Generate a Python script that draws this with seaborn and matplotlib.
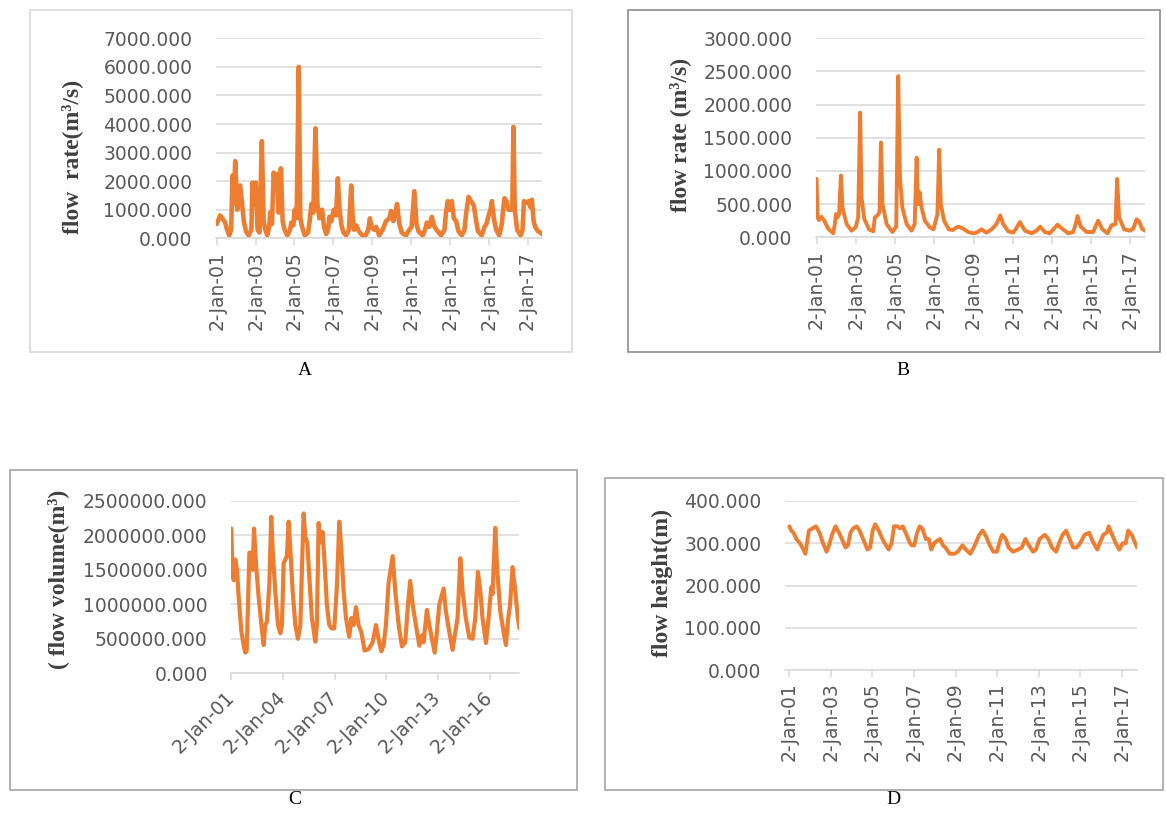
import matplotlib
matplotlib.use("Agg")
import matplotlib.pyplot as plt
from matplotlib.patches import Rectangle
import seaborn as sns

# ---- data (decimal year, value) ----

# A: daily flow rate (m3/s), peaks/troughs
years_a = [2001.00, 2001.17, 2001.29, 2001.43, 2001.53, 2001.64, 2001.74, 2001.81, 2001.88, 2001.95,
           2002.05, 2002.12, 2002.20, 2002.29, 2002.39, 2002.50, 2002.64, 2002.78, 2002.84, 2002.93,
           2003.01, 2003.10, 2003.20, 2003.32, 2003.41, 2003.50, 2003.60, 2003.70, 2003.75, 2003.84,
           2003.93, 2004.01, 2004.10, 2004.18, 2004.30, 2004.39, 2004.49, 2004.63, 2004.77, 2004.84,
           2004.94, 2005.01, 2005.11, 2005.22, 2005.30, 2005.39, 2005.53, 2005.70, 2005.80, 2005.87,
           2005.97, 2006.08, 2006.18, 2006.28, 2006.42, 2006.52, 2006.63, 2006.73, 2006.80, 2006.90,
           2007.02, 2007.14, 2007.23, 2007.32, 2007.42, 2007.52, 2007.66, 2007.80, 2007.92, 2007.99,
           2008.06, 2008.18, 2008.31, 2008.49, 2008.66, 2008.80, 2008.88, 2008.97, 2009.09, 2009.20,
           2009.36, 2009.54, 2009.71, 2009.88, 2009.97, 2010.09, 2010.19, 2010.28, 2010.40, 2010.52,
           2010.74, 2010.91, 2011.03, 2011.17, 2011.28, 2011.38, 2011.60, 2011.72, 2011.81, 2011.93,
           2012.07, 2012.17, 2012.31, 2012.55, 2012.72, 2012.80, 2012.89, 2012.99, 2013.10, 2013.20,
           2013.32, 2013.44, 2013.61, 2013.75, 2013.84, 2013.96, 2014.09, 2014.23, 2014.33, 2014.44,
           2014.64, 2014.78, 2014.88, 2014.99, 2015.09, 2015.16, 2015.26, 2015.38, 2015.54, 2015.67,
           2015.74, 2015.81, 2015.91, 2016.02, 2016.12, 2016.21, 2016.27, 2016.34, 2016.46, 2016.64,
           2016.74, 2016.81, 2016.93, 2017.05, 2017.13, 2017.22, 2017.31, 2017.39, 2017.53, 2017.67,
           2017.73]
flow_a = [500, 800, 700, 550, 300, 100, 300, 2200, 1200, 2700,
          1000, 1500, 1850, 1300, 600, 250, 100, 300, 1950, 1200,
          1950, 300, 200, 3400, 600, 300, 100, 400, 900, 500,
          2300, 1800, 2250, 900, 2450, 600, 300, 100, 300, 550,
          450, 1000, 700, 6000, 700, 400, 100, 200, 700, 1200,
          900, 3850, 1200, 700, 1000, 400, 150, 300, 750, 600,
          1000, 800, 2100, 1000, 450, 200, 100, 300, 1850, 800,
          300, 450, 250, 100, 100, 300, 700, 400, 300, 400,
          100, 300, 600, 700, 950, 600, 900, 1200, 500, 200,
          100, 300, 400, 1650, 500, 250, 100, 300, 550, 400,
          750, 450, 300, 100, 300, 900, 1300, 1000, 1300, 700,
          600, 250, 100, 300, 900, 1450, 1300, 1150, 700, 250,
          100, 400, 500, 800, 1000, 1300, 700, 300, 100, 500,
          1000, 1400, 1300, 1000, 1000, 1000, 3900, 1000, 300, 100,
          300, 1300, 1250, 1300, 1100, 1350, 600, 400, 250, 200,
          150]

# B: flow rate (m3/s)
years_b = [2001.00, 2001.05, 2001.12, 2001.25, 2001.39, 2001.59, 2001.85, 2001.93, 2001.99, 2002.07,
           2002.15, 2002.24, 2002.32, 2002.53, 2002.78, 2002.99, 2003.12, 2003.22, 2003.29, 2003.43,
           2003.67, 2003.89, 2003.97, 2004.11, 2004.21, 2004.28, 2004.36, 2004.57, 2004.86, 2005.06,
           2005.16, 2005.25, 2005.37, 2005.59, 2005.84, 2006.00, 2006.10, 2006.17, 2006.25, 2006.35,
           2006.52, 2006.77, 2006.96, 2007.16, 2007.25, 2007.33, 2007.50, 2007.74, 2007.96, 2008.13,
           2008.25, 2008.47, 2008.73, 2008.98, 2009.15, 2009.41, 2009.66, 2009.92, 2010.17, 2010.36,
           2010.51, 2010.77, 2011.02, 2011.19, 2011.36, 2011.62, 2011.96, 2012.21, 2012.40, 2012.63,
           2012.89, 2013.28, 2013.52, 2013.82, 2014.08, 2014.21, 2014.30, 2014.47, 2014.76, 2015.10,
           2015.35, 2015.57, 2015.83, 2016.03, 2016.24, 2016.32, 2016.42, 2016.68, 2016.97, 2017.14,
           2017.31, 2017.44, 2017.59, 2017.73]
flow_b = [880, 300, 260, 310, 250, 130, 60, 200, 350, 300,
          350, 930, 450, 200, 100, 150, 300, 1880, 600, 280,
          120, 90, 300, 330, 380, 1430, 500, 200, 80, 160,
          2430, 900, 450, 200, 100, 200, 1200, 500, 680, 450,
          250, 150, 120, 350, 1320, 500, 250, 120, 110, 150,
          160, 130, 80, 60, 70, 120, 70, 120, 200, 330,
          200, 90, 70, 140, 230, 100, 60, 100, 160, 80,
          60, 190, 130, 60, 80, 200, 320, 160, 80, 80,
          250, 120, 60, 180, 200, 880, 300, 120, 100, 130,
          270, 240, 130, 100]

# C: flow volume (m3)
years_c = [2001.00, 2001.08, 2001.15, 2001.23, 2001.33, 2001.43, 2001.58, 2001.72, 2001.81, 2001.89,
           2001.97, 2002.05, 2002.16, 2002.24, 2002.32, 2002.43, 2002.59, 2002.74, 2002.88, 2002.97,
           2003.07, 2003.21, 2003.32, 2003.40, 2003.55, 2003.71, 2003.85, 2003.94, 2004.04, 2004.14,
           2004.23, 2004.33, 2004.43, 2004.56, 2004.72, 2004.87, 2005.01, 2005.10, 2005.20, 2005.30,
           2005.41, 2005.53, 2005.68, 2005.88, 2005.97, 2006.07, 2006.17, 2006.30, 2006.42, 2006.55,
           2006.69, 2006.84, 2006.98, 2007.14, 2007.27, 2007.39, 2007.52, 2007.66, 2007.85, 2007.97,
           2008.10, 2008.24, 2008.39, 2008.55, 2008.74, 2008.97, 2009.21, 2009.40, 2009.55, 2009.71,
           2009.84, 2009.98, 2010.13, 2010.37, 2010.52, 2010.72, 2010.91, 2011.10, 2011.26, 2011.39,
           2011.53, 2011.72, 2011.92, 2012.07, 2012.17, 2012.36, 2012.50, 2012.65, 2012.81, 2012.94,
           2013.08, 2013.33, 2013.46, 2013.66, 2013.85, 2014.01, 2014.14, 2014.30, 2014.43, 2014.62,
           2014.82, 2015.01, 2015.17, 2015.32, 2015.46, 2015.59, 2015.79, 2015.94, 2016.10, 2016.17,
           2016.33, 2016.44, 2016.62, 2016.81, 2016.95, 2017.06, 2017.19, 2017.33, 2017.49, 2017.64,
           2017.74]
volume_c = [2100000, 1400000, 1350000, 1650000, 1500000, 1100000, 620000, 400000, 300000, 320000,
            1000000, 1750000, 1750000, 1500000, 2100000, 1600000, 1100000, 720000, 410000, 700000,
            750000, 1300000, 2270000, 1800000, 1200000, 700000, 580000, 700000, 1600000, 1650000,
            1700000, 2200000, 1800000, 1200000, 700000, 500000, 700000, 1500000, 2320000, 1980000,
            1900000, 1400000, 800000, 460000, 700000, 2180000, 1900000, 2050000, 1600000, 1000000,
            700000, 650000, 650000, 1300000, 2200000, 1800000, 1200000, 800000, 530000, 800000,
            700000, 960000, 700000, 600000, 330000, 350000, 450000, 700000, 500000, 320000,
            400000, 700000, 1300000, 1700000, 1200000, 700000, 390000, 450000, 1000000, 1340000,
            1000000, 700000, 400000, 550000, 450000, 920000, 700000, 500000, 300000, 600000,
            1000000, 1230000, 900000, 600000, 340000, 600000, 800000, 1670000, 1200000, 800000,
            520000, 500000, 800000, 1470000, 1200000, 800000, 440000, 800000, 1250000, 1150000,
            2110000, 1500000, 900000, 600000, 410000, 750000, 1000000, 1540000, 1200000, 800000,
            650000]

# D: flow height (m)
years_d = [2001.00, 2001.09, 2001.20, 2001.34, 2001.51, 2001.68, 2001.77, 2001.85, 2001.94, 2002.11,
           2002.28, 2002.45, 2002.62, 2002.79, 2002.91, 2003.05, 2003.22, 2003.39, 2003.53, 2003.70,
           2003.82, 2003.94, 2004.07, 2004.24, 2004.38, 2004.55, 2004.76, 2004.89, 2005.01, 2005.13,
           2005.30, 2005.53, 2005.78, 2005.92, 2006.04, 2006.21, 2006.33, 2006.46, 2006.64, 2006.81,
           2006.89, 2007.01, 2007.15, 2007.27, 2007.40, 2007.57, 2007.71, 2007.83, 2007.97, 2008.09,
           2008.26, 2008.39, 2008.51, 2008.72, 2008.94, 2009.11, 2009.33, 2009.50, 2009.71, 2009.88,
           2010.14, 2010.31, 2010.48, 2010.65, 2010.82, 2010.99, 2011.16, 2011.25, 2011.42, 2011.55,
           2011.76, 2012.01, 2012.19, 2012.36, 2012.53, 2012.73, 2012.87, 2013.04, 2013.30, 2013.47,
           2013.64, 2013.84, 2013.98, 2014.15, 2014.32, 2014.49, 2014.66, 2014.83, 2015.00, 2015.21,
           2015.43, 2015.60, 2015.82, 2015.94, 2016.11, 2016.28, 2016.37, 2016.54, 2016.71, 2016.88,
           2017.05, 2017.19, 2017.31, 2017.48, 2017.65, 2017.73]
height_d = [340, 330, 325, 310, 300, 285, 275, 300, 330, 335,
            340, 325, 300, 280, 295, 320, 340, 325, 310, 290,
            295, 325, 335, 340, 330, 310, 285, 290, 330, 345,
            330, 305, 285, 300, 340, 340, 335, 340, 320, 300,
            295, 295, 325, 340, 335, 310, 310, 285, 300, 305,
            310, 295, 290, 275, 275, 280, 295, 285, 275, 290,
            320, 330, 315, 295, 280, 280, 310, 320, 310, 290,
            280, 285, 290, 310, 295, 280, 285, 310, 320, 310,
            290, 280, 300, 320, 330, 310, 290, 290, 300, 320,
            325, 305, 285, 300, 320, 325, 340, 320, 300, 285,
            300, 300, 330, 320, 300, 290]

ticks_two_year = [2001, 2003, 2005, 2007, 2009, 2011, 2013, 2015, 2017]
labels_two_year = ['2-Jan-01', '2-Jan-03', '2-Jan-05', '2-Jan-07', '2-Jan-09',
                   '2-Jan-11', '2-Jan-13', '2-Jan-15', '2-Jan-17']
ticks_three_year = [2001, 2004, 2007, 2010, 2013, 2016]
labels_three_year = ['2-Jan-01', '2-Jan-04', '2-Jan-07', '2-Jan-10', '2-Jan-13', '2-Jan-16']

# ---- styling ----
ORANGE = '#ED7D31'
GRID = '#D9D9D9'
TICK_TXT = '#595959'
W, H = 1166, 815

sns.set_theme(style='white')
plt.rcParams['font.family'] = ['DejaVu Sans']

fig = plt.figure(figsize=(W / 100, H / 100), dpi=100)
fig.patch.set_facecolor('white')


def add_px_axes(left, top, right, bottom):
    """Axes placed by pixel box (top-left origin)."""
    return fig.add_axes([left / W, 1 - bottom / H, (right - left) / W, (bottom - top) / H])


def style_axes(ax, ylim, yticks, xlim):
    ax.set_xlim(*xlim)
    ax.set_ylim(*ylim)
    ax.set_yticks(yticks)
    ax.set_yticklabels([f'{v:.3f}' for v in yticks])
    for side in ('top', 'right', 'left'):
        ax.spines[side].set_visible(False)
    ax.spines['bottom'].set_color(GRID)
    ax.spines['bottom'].set_linewidth(1.1)
    ax.grid(axis='y', color=GRID, linewidth=1.1)
    ax.grid(axis='x', visible=False)
    ax.set_axisbelow(True)
    ax.tick_params(axis='y', length=0, pad=17, labelsize=13.5, labelcolor=TICK_TXT)
    ax.tick_params(axis='x', length=5, width=1.1, color=GRID, direction='out',
                   labelsize=13.5, labelcolor=TICK_TXT, bottom=True)
    ax.set_xlabel('')
    ax.set_ylabel('')


def draw_line(ax, x, y, lw):
    sns.lineplot(x=x, y=y, ax=ax, color=ORANGE, linewidth=lw, estimator=None, sort=False)


# panel borders
for (l, t, r, b, c) in [(30, 10, 572, 352, '#D9D9D9'), (628, 10, 1160, 352, '#8C8C8C'),
                        (10, 470, 577, 790, '#A6A6A6'), (605, 478, 1163, 790, '#A6A6A6')]:
    fig.patches.append(Rectangle((l / W, 1 - b / H), (r - l) / W, (b - t) / H,
                                 transform=fig.transFigure, fill=False, edgecolor=c, linewidth=1.2))

# A
ax_a = add_px_axes(216, 38.3, 542, 238.3)
draw_line(ax_a, years_a, flow_a, 3.3)
style_axes(ax_a, (0, 7000), [0, 1000, 2000, 3000, 4000, 5000, 6000, 7000], (2000.96, 2017.74))
ax_a.set_xticks(ticks_two_year)
ax_a.set_xticklabels(labels_two_year, rotation=90)
ax_a.tick_params(axis='x', pad=4)

# B
ax_b = add_px_axes(816, 38.3, 1145, 237.3)
draw_line(ax_b, years_b, flow_b, 2.8)
style_axes(ax_b, (0, 3000), [0, 500, 1000, 1500, 2000, 2500, 3000], (2000.97, 2017.74))
ax_b.set_xticks(ticks_two_year)
ax_b.set_xticklabels(labels_two_year, rotation=90)
ax_b.tick_params(axis='x', pad=4)

# C
ax_c = add_px_axes(231.3, 501, 518.7, 673.3)
draw_line(ax_c, years_c, volume_c, 3.0)
style_axes(ax_c, (0, 2500000), [0, 500000, 1000000, 1500000, 2000000, 2500000], (2001.0, 2017.69))
ax_c.set_xticks(ticks_three_year)
ax_c.set_xticklabels(labels_three_year, rotation=45, ha='right', va='center',
                     rotation_mode='anchor')
ax_c.tick_params(axis='x', pad=10)

# D
ax_d = add_px_axes(785, 501, 1136.7, 670)
draw_line(ax_d, years_d, height_d, 2.8)
style_axes(ax_d, (0, 400), [0, 100, 200, 300, 400], (2000.79, 2017.72))
ax_d.set_xticks(ticks_two_year)
ax_d.set_xticklabels(labels_two_year, rotation=90)
ax_d.tick_params(axis='x', pad=4)

# y axis titles (bold serif)
ylab_font = dict(family='Liberation Serif', fontweight='bold', fontsize=17,
                 rotation=90, ha='center', va='center', color='#404040')
fig.text(72 / W, 1 - 157 / H, 'flow  rate(m³/s)', **ylab_font)
fig.text(680 / W, 1 - 135 / H, 'flow rate (m³/s)', **ylab_font)
fig.text(58 / W, 1 - 579 / H, '( flow volume(m³)', **ylab_font)
fig.text(662 / W, 1 - 583 / H, 'flow height(m)', **ylab_font)

# panel letters
for letter, (x, y) in zip('ABCD', [(305, 370), (903, 370), (295, 800), (893, 800)]):
    fig.text(x / W, 1 - y / H, letter, family='Liberation Serif', fontsize=14,
             ha='center', va='center', color='black')

fig.savefig('out.png', dpi=100)
